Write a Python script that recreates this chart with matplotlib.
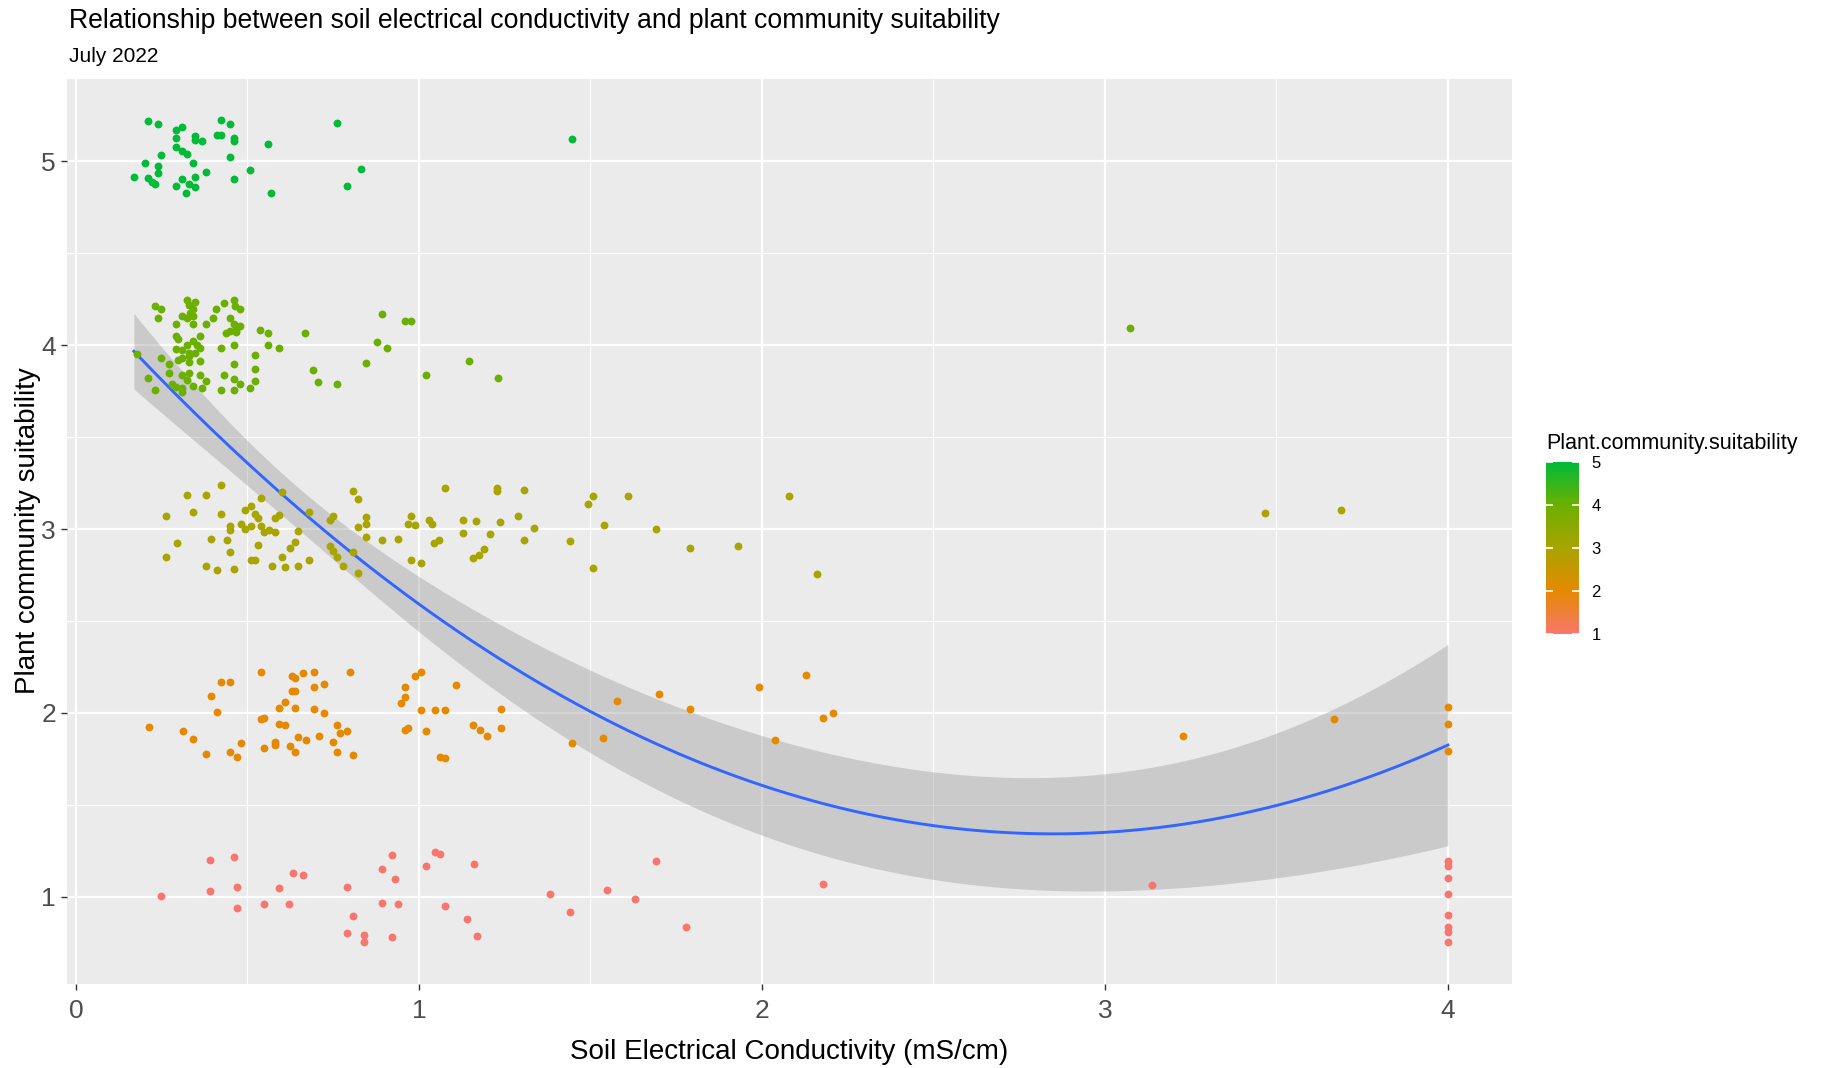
import numpy as np
import matplotlib
matplotlib.use("Agg")
import matplotlib.pyplot as plt
from matplotlib.colors import LinearSegmentedColormap, Normalize
from matplotlib.cm import ScalarMappable

plt.rcParams['font.family'] = ['Liberation Sans', 'DejaVu Sans']

# ---------------- data (EC in mS/cm, jittered suitability as displayed) ----------------
ec_5 = [0.209, 0.239, 0.422, 0.448, 0.760, 0.309, 0.292, 0.410, 0.422, 0.347, 0.461, 0.292,
        0.347, 0.369, 0.461, 0.561, 0.292, 0.309, 0.323, 0.248, 0.448, 0.200, 0.239, 0.340,
        0.508, 0.830, 0.239, 0.378, 0.169, 0.209, 0.221, 0.231, 0.309, 0.347, 0.461, 0.292,
        0.330, 0.347, 0.790, 0.322, 0.569, 1.446]
jit_5 = [5.216, 5.199, 5.225, 5.199, 5.208, 5.185, 5.167, 5.143, 5.143, 5.138, 5.123, 5.126,
         5.114, 5.109, 5.110, 5.094, 5.078, 5.056, 5.038, 5.031, 5.022, 4.989, 4.973, 4.989,
         4.949, 4.957, 4.933, 4.940, 4.915, 4.908, 4.888, 4.873, 4.900, 4.915, 4.900, 4.866,
         4.873, 4.859, 4.866, 4.826, 4.826, 5.120]

ec_4 = [0.231, 0.248, 0.239, 0.323, 0.347, 0.330, 0.340, 0.333, 0.461, 0.431, 0.464, 0.479,
        0.409, 0.309, 0.323, 0.340, 0.292, 0.400, 0.378, 0.340, 0.448, 0.461, 0.479, 0.468,
        0.439, 0.448, 0.468, 0.292, 0.298, 0.361, 0.538, 0.561, 0.669, 0.891, 0.960, 0.978,
        0.877, 0.908, 0.846, 0.691, 0.707, 0.760, 1.020, 0.323, 0.340, 0.353, 0.292, 0.309,
        0.330, 0.361, 0.422, 0.461, 0.347, 0.329, 0.309, 0.298, 0.330, 0.361, 0.521, 0.591,
        0.561, 0.179, 0.248, 0.270, 0.270, 0.209, 0.231, 0.279, 0.292, 0.309, 0.309, 0.309,
        0.323, 0.340, 0.330, 0.361, 0.378, 0.369, 0.431, 0.422, 0.461, 0.461, 0.479, 0.461,
        0.508, 0.521, 0.521, 1.147, 1.232, 3.073]
jit_4 = [4.212, 4.194, 4.145, 4.245, 4.232, 4.217, 4.194, 4.176, 4.245, 4.227, 4.212, 4.194,
         4.194, 4.158, 4.145, 4.158, 4.114, 4.145, 4.114, 4.114, 4.145, 4.114, 4.103, 4.082,
         4.063, 4.078, 4.069, 4.049, 4.031, 4.049, 4.082, 4.063, 4.063, 4.170, 4.129, 4.129,
         4.016, 3.984, 3.904, 3.862, 3.799, 3.788, 3.837, 4.000, 4.024, 4.000, 3.978, 3.973,
         3.958, 3.984, 3.984, 4.000, 3.958, 3.940, 3.928, 3.919, 3.906, 3.911, 3.944, 3.984,
         4.000, 3.951, 3.928, 3.895, 3.846, 3.823, 3.757, 3.786, 3.770, 3.765, 3.746, 3.837,
         3.810, 3.779, 3.850, 3.837, 3.806, 3.765, 3.837, 3.757, 3.895, 3.813, 3.788, 3.757,
         3.765, 3.806, 3.871, 3.912, 3.823, 4.090]

ec_3 = [0.264, 0.264, 0.294, 0.324, 0.341, 0.380, 0.380, 0.394, 0.411, 0.424, 0.424, 0.441,
        0.450, 0.450, 0.450, 0.462, 0.480, 0.492, 0.510, 0.492, 0.510, 0.523, 0.532, 0.541,
        0.532, 0.541, 0.549, 0.562, 0.579, 0.579, 0.592, 0.601, 0.601, 0.510, 0.523, 0.571,
        0.609, 0.623, 0.640, 0.648, 0.648, 0.679, 0.679, 0.741, 0.749, 0.741, 0.749, 0.762,
        0.779, 0.809, 0.821, 0.809, 0.821, 0.821, 0.847, 0.847, 0.847, 0.891, 0.938, 0.977,
        0.968, 0.989, 0.977, 1.007, 1.029, 1.038, 1.045, 1.060, 1.077, 1.129, 1.129, 1.167,
        1.206, 1.159, 1.176, 1.189, 1.227, 1.227, 1.237, 1.288, 1.305, 1.305, 1.336, 1.440,
        1.492, 1.509, 1.540, 1.509, 1.609, 1.691, 1.790, 1.930, 2.079, 2.161, 3.467, 3.688]
jit_3 = [3.069, 2.850, 2.924, 3.183, 3.092, 3.183, 2.801, 2.947, 2.777, 3.239, 3.083, 2.938,
         2.875, 3.018, 2.996, 2.784, 3.029, 3.101, 3.123, 3.002, 3.018, 3.083, 3.060, 3.167,
         2.915, 3.018, 2.986, 2.996, 2.986, 3.058, 3.076, 3.199, 2.850, 2.830, 2.833, 2.801,
         2.793, 2.899, 2.931, 2.987, 2.801, 3.092, 2.833, 3.051, 3.069, 2.906, 2.882, 2.850,
         2.801, 3.207, 3.165, 2.875, 2.761, 3.011, 3.063, 3.027, 2.955, 2.938, 2.947, 3.069,
         3.027, 3.020, 2.833, 2.817, 3.051, 3.027, 2.922, 2.938, 3.223, 3.051, 2.980, 3.043,
         2.971, 2.842, 2.859, 2.891, 3.221, 3.207, 3.036, 3.069, 3.214, 2.938, 3.004, 2.935,
         3.136, 3.178, 3.024, 2.788, 3.178, 3.000, 2.895, 2.909, 3.178, 2.755, 3.089, 3.102]

ec_2 = [0.212, 0.311, 0.342, 0.380, 0.394, 0.411, 0.424, 0.450, 0.450, 0.471, 0.480, 0.541,
        0.541, 0.549, 0.548, 0.579, 0.579, 0.592, 0.592, 0.609, 0.609, 0.623, 0.631, 0.640,
        0.662, 0.693, 0.631, 0.640, 0.640, 0.640, 0.648, 0.670, 0.693, 0.693, 0.723, 0.723,
        0.709, 0.749, 0.761, 0.770, 0.791, 0.761, 0.800, 0.809, 0.947, 0.960, 0.960, 0.990,
        1.007, 0.960, 0.969, 1.007, 1.020, 1.047, 1.077, 1.061, 1.077, 1.108, 1.159, 1.177,
        1.198, 1.238, 1.238, 1.445, 1.538, 1.579, 1.701, 1.791, 1.992, 2.038, 2.130, 2.179,
        2.207, 3.229, 3.667, 4.000, 4.000, 4.000]
jit_2 = [1.924, 1.900, 1.861, 1.779, 2.094, 2.005, 2.167, 2.167, 1.786, 1.763, 1.835, 2.225,
         1.966, 1.973, 1.812, 1.844, 1.828, 2.029, 1.942, 1.933, 2.062, 1.819, 2.201, 2.190,
         2.216, 2.225, 2.118, 2.118, 2.029, 1.786, 1.868, 1.851, 2.143, 2.022, 2.159, 1.998,
         1.877, 1.844, 1.933, 1.891, 1.900, 1.786, 2.225, 1.770, 2.054, 2.087, 2.143, 2.201,
         2.225, 1.909, 1.917, 2.014, 1.900, 2.014, 2.014, 1.763, 1.755, 2.152, 1.933, 1.909,
         1.877, 2.022, 1.917, 1.835, 1.863, 2.063, 2.105, 2.023, 2.144, 1.854, 2.209, 1.975,
         2.000, 1.877, 1.968, 2.031, 1.941, 1.796]

ec_1 = [0.248, 0.392, 0.461, 0.392, 0.470, 0.470, 0.548, 0.591, 0.622, 0.632, 0.662, 0.791,
        0.808, 0.791, 0.839, 0.839, 0.891, 0.891, 0.921, 0.929, 0.939, 0.921, 1.021, 1.047,
        1.061, 1.077, 1.139, 1.161, 1.169, 1.383, 1.440, 1.547, 1.630, 1.691, 1.778, 2.177,
        3.137, 4.000, 4.000, 4.000, 4.000, 4.000, 4.000, 4.000, 4.000]
jit_1 = [1.007, 1.203, 1.219, 1.033, 1.056, 0.942, 0.960, 1.049, 0.960, 1.130, 1.121, 1.056,
         0.895, 0.804, 0.795, 0.755, 1.154, 0.967, 1.226, 1.096, 0.960, 0.781, 1.170, 1.243,
         1.236, 0.951, 0.879, 1.178, 0.790, 1.014, 0.917, 1.040, 0.991, 1.193, 0.838, 1.072,
         1.063, 1.196, 1.170, 1.105, 1.018, 0.902, 0.835, 0.810, 0.757]

levels = [1, 2, 3, 4, 5]
ec_by_level = [ec_1, ec_2, ec_3, ec_4, ec_5]
jit_by_level = [jit_1, jit_2, jit_3, jit_4, jit_5]

x_ticks = [0, 1, 2, 3, 4]
y_ticks = [1, 2, 3, 4, 5]

title = "Relationship between soil electrical conductivity and plant community suitability"
subtitle = "July 2022"
x_label = "Soil Electrical Conductivity (mS/cm)"
y_label = "Plant community suitability"
legend_title = "Plant.community.suitability"

# ---------------- styling ----------------
grad_colors = ["#F8766D", "#E58A00", "#A8A400", "#6CB000", "#00BA38"]
cmap = LinearSegmentedColormap.from_list("suit", grad_colors)
norm = Normalize(1, 5)

W, H = 1827, 1068
fig = plt.figure(figsize=(W / 100, H / 100), dpi=100)
fig.patch.set_facecolor("white")

L, R, T, B = 67, 1512, 79, 984
ax = fig.add_axes([L / W, 1 - B / H, (R - L) / W, (B - T) / H])
ax.set_facecolor("#EBEBEB")
for s in ax.spines.values():
    s.set_visible(False)

ax.set_xlim(-0.026, 4.187)
ax.set_ylim(0.527, 5.446)
ax.set_xticks(x_ticks)
ax.set_yticks(y_ticks)
ax.set_xticks([0.5, 1.5, 2.5, 3.5], minor=True)
ax.set_yticks([1.5, 2.5, 3.5, 4.5], minor=True)
ax.grid(which="major", color="white", linewidth=1.65)
ax.grid(which="minor", color="white", linewidth=0.85)
ax.set_axisbelow(True)
ax.tick_params(which="major", length=4, width=1.0, color="#333333",
               labelsize=19, labelcolor="#4D4D4D")
ax.tick_params(axis="x", pad=7)
ax.tick_params(axis="y", pad=4)
ax.tick_params(which="minor", length=0)

# ---------------- quadratic fit with 95% CI ----------------
x_all = np.concatenate([np.array(e, float) for e in ec_by_level])
y_all = np.concatenate([np.full(len(e), lv, float) for e, lv in zip(ec_by_level, levels)])
X = np.column_stack([np.ones_like(x_all), x_all, x_all ** 2])
beta, *_ = np.linalg.lstsq(X, y_all, rcond=None)
resid = y_all - X @ beta
dof = len(y_all) - 3
s2 = resid @ resid / dof
cov = s2 * np.linalg.inv(X.T @ X)
xs = np.linspace(x_all.min(), x_all.max(), 200)
Xs = np.column_stack([np.ones_like(xs), xs, xs ** 2])
ys = Xs @ beta
se = np.sqrt(np.einsum("ij,jk,ik->i", Xs, cov, Xs))
tval = 1.967
ax.fill_between(xs, ys - tval * se, ys + tval * se, color="#999999", alpha=0.4,
                linewidth=0, zorder=2)
ax.plot(xs, ys, color="#3366FF", linewidth=2.1, zorder=3)

# ---------------- points ----------------
for lv, e, j in zip(levels, ec_by_level, jit_by_level):
    ax.scatter(e, j, s=32, color=cmap(norm(lv)), linewidths=0, zorder=4)

# ---------------- texts ----------------
fig.text(69 / W, 1 - 21 / H, title, fontsize=19.2, va="center", ha="left", color="black")
fig.text(69 / W, 1 - 56 / H, subtitle, fontsize=15, va="center", ha="left", color="black")
fig.text((L + R) / 2 / W, 1 - 1052 / H, x_label, fontsize=20, ha="center", va="center")
fig.text(28 / W, 1 - 531 / H, y_label, fontsize=20, ha="center", va="center", rotation=90)

# ---------------- colorbar legend ----------------
cax = fig.add_axes([1546 / W, 1 - 634 / H, 33 / W, 172 / H])
cb = fig.colorbar(ScalarMappable(norm=norm, cmap=cmap), cax=cax, ticks=y_ticks)
cb.outline.set_visible(False)
cax.tick_params(direction="in", color="white", length=5, width=1.2,
                left=True, right=True, labelsize=12, labelcolor="black", pad=9)
fig.text(1546 / W, 1 - 443 / H, legend_title, fontsize=15.5, va="center", ha="left")

fig.savefig("out.png", dpi=100)
